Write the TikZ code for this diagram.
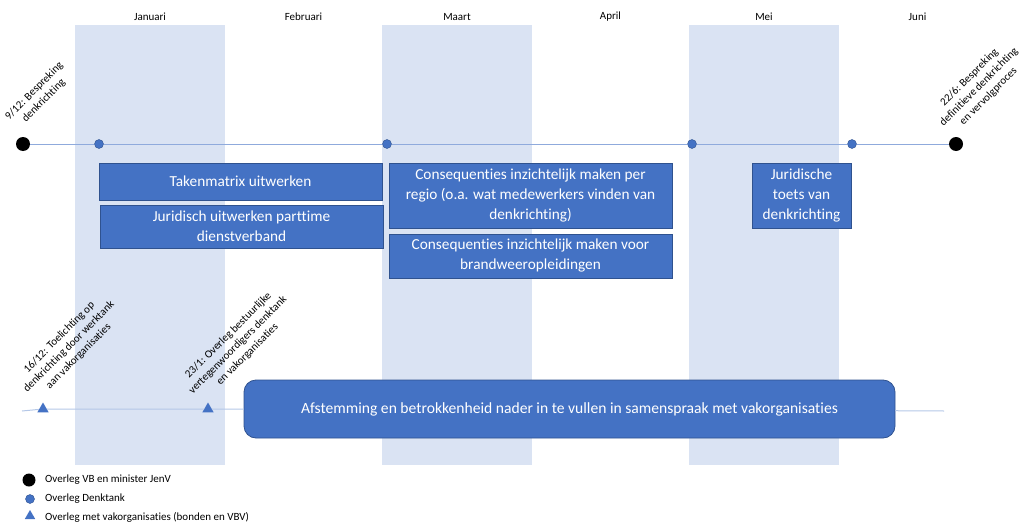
\documentclass[tikz,border=0pt]{standalone}
\usepackage{fontspec}
\setmainfont{Carlito}[Ligatures=NoCommon]
\usetikzlibrary{shapes.geometric}
\definecolor{offblue}{HTML}{4472C4}
\definecolor{offedge}{HTML}{2F528F}
\definecolor{bandblue}{HTML}{DAE3F3}
\definecolor{lineblue}{HTML}{8FAADC}
\definecolor{lightline}{HTML}{B4C7E7}
\tikzset{
  band/.style={fill=bandblue},
  bigdot/.style={circle,fill=black,inner sep=0pt,minimum size=14pt},
  dkdot/.style={circle,fill=offblue,draw=offedge,line width=0.4pt,inner sep=0pt,minimum size=9pt},
  vktri/.style={regular polygon,regular polygon sides=3,fill=offblue,inner sep=0pt,minimum size=13pt},
  taak/.style={fill=offblue,draw=offedge,line width=0.8pt,text=white,align=center,
    font=\fontsize{15.3}{20}\selectfont,inner sep=0pt},
  datum/.style={rotate=45,align=center,font=\fontsize{11}{13.5}\selectfont},
  maand/.style={font=\fontsize{11}{13}\selectfont},
  legenda/.style={anchor=west,font=\fontsize{11}{13}\selectfont,inner sep=0pt}
}
\begin{document}
\begin{tikzpicture}[x=1pt,y=-1pt]
  \useasboundingbox (0,0) rectangle (1030,524);
  % maanden
  \foreach \x in {75,382,689}
    \fill[band] (\x,25) rectangle ++(150,440);
  \foreach \m [count=\i] in {Januari,Februari,Maart,April,Mei,Juni}
    \node[maand] (mnd\i) at ({150+(\i-1)*153.5},17) {\m};
  % overleg denktank en VB
  \node[bigdot] (vb1) at (23,144) {};
  \node[dkdot] (dk1) at (99,144) {};
  \node[dkdot] (dk2) at (387,144) {};
  \node[dkdot] (dk3) at (692,144) {};
  \node[dkdot] (dk4) at (852,144) {};
  \node[bigdot] (vb2) at (956,144) {};
  \draw[lineblue,line width=1pt] (vb1) -- (dk1) -- (dk2) -- (dk3) -- (dk4) -- (vb2);
  \node[datum] (lvb1) at (39,96) {9/12: Bespreking\\denkrichting};
  \node[datum] (lvb2) at (979,87) {22/6: Bespreking\\definitieve denkrichting\\en vervolgproces};
  % taken
  \node[taak,minimum width=283pt,minimum height=37pt] (taken) at (240.5,181.5) {Takenmatrix uitwerken};
  \node[taak,minimum width=283pt,minimum height=43pt] (jurid) at (241.5,226.5) {Juridisch uitwerken parttime\\dienstverband};
  \node[taak,minimum width=283pt,minimum height=65pt] (regio) at (530.5,195.5) {Consequenties inzichtelijk maken per\\regio (o.a. wat medewerkers vinden van\\denkrichting)};
  \node[taak,minimum width=283pt,minimum height=44pt] (brand) at (530.5,256) {Consequenties inzichtelijk maken voor\\brandweeropleidingen};
  \node[taak,minimum width=99pt,minimum height=65pt] (toets) at (801.5,195.5) {Juridische\\toets van\\denkrichting};
  % vakorganisaties
  \coordinate (vb) at (22,411);
  \coordinate (ve) at (944,411);
  \node[vktri] (vk1) at (43,409) {};
  \node[vktri] (vk2) at (208,409) {};
  \node[taak,rounded corners=12pt,minimum width=651pt,minimum height=58pt,
    font=\fontsize{15.6}{20}\selectfont] (afst) at (569.5,409)
    {Afstemming en betrokkenheid nader in te vullen in samenspraak met vakorganisaties};
  \draw[lightline,line width=1pt] (vb) -- (vk1) -- (vk2) -- (afst) -- (ve);
  \node[datum] (lvk1) at (69,347) {16/12: Toelichting op\\denkrichting door werktank\\aan vakorganisaties};
  \node[datum] (lvk2) at (238,345) {23/1: Overleg bestuurlijke\\vertegenwoordigers denktank\\en vakorganisaties};
  % legenda
  \node[bigdot,minimum size=13pt] (lg1) at (29,480) {};
  \node[dkdot] (lg2) at (30,499) {};
  \node[vktri,minimum size=12pt] (lg3) at (30,516) {};
  \node[legenda] (lt1) at (45,480) {Overleg VB en minister JenV};
  \node[legenda] (lt2) at (45,499) {Overleg Denktank};
  \node[legenda] (lt3) at (45,517) {Overleg met vakorganisaties (bonden en VBV)};
\end{tikzpicture}
\end{document}
